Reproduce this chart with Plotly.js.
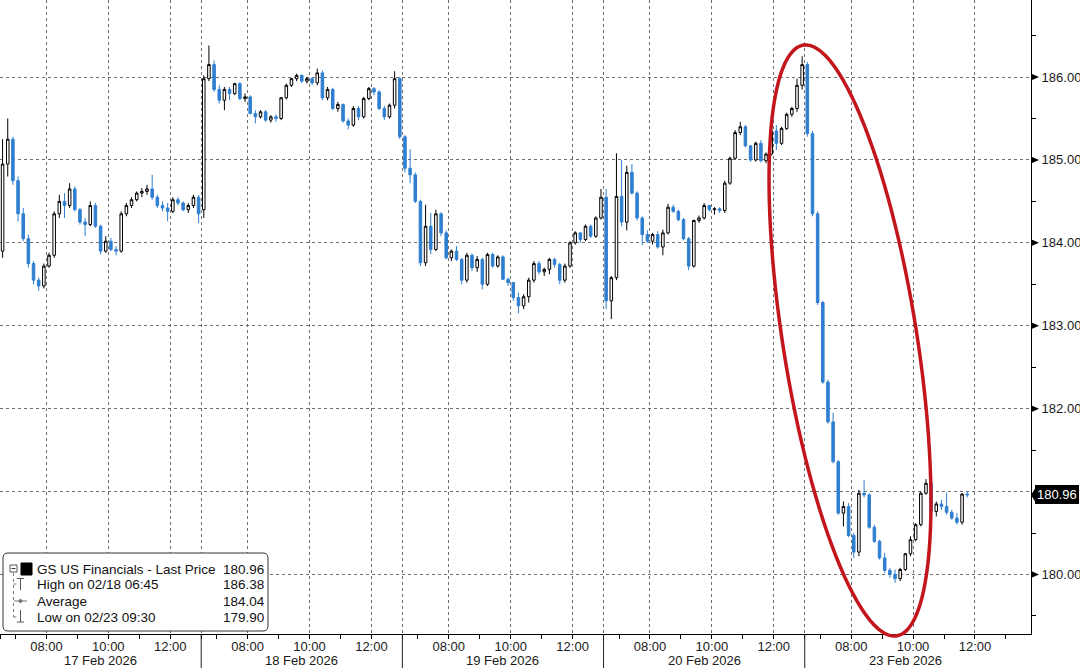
<!DOCTYPE html>
<html>
<head>
<meta charset="utf-8">
<script src="https://cdn.plot.ly/plotly-3.0.1.min.js"></script>
<style>
html,body{margin:0;padding:0;background:#fff;}
#chart{width:1080px;height:668px;}
</style>
</head>
<body>
<div id="chart"></div>
<script>
// ---------------- data ----------------
const dayLabels = ['17 Feb 2026', '18 Feb 2026', '19 Feb 2026', '20 Feb 2026', '23 Feb 2026'];
const sessionStart = 6.5;      // 06:30
const sessionHours = 6.5;      // 06:30 - 13:00 shown per day
const barMinutes = 10;
const tickHours = [8, 10, 12];
const tickLabels = ['08:00', '10:00', '12:00'];
const yTicks = [180, 181, 182, 183, 184, 185, 186];
const lastPrice = 180.96;
const legendLabels = ['GS US Financials - Last Price', 'High on 02/18 06:45', 'Average', 'Low on 02/23 09:30'];
const legendValues = ['180.96', '186.38', '184.04', '179.90'];

// [open, high, low, close] per 10-minute bar
const feb17 = [
 [183.9,185.25,183.82,184.95],[184.95,185.5,184.8,185.25],[185.25,185.28,184.7,184.75],[184.75,184.8,184.26,184.35],
 [184.35,184.42,184.02,184.05],[184.05,184.1,183.7,183.75],[183.75,183.78,183.5,183.55],[183.55,183.58,183.42,183.48],
 [183.48,183.75,183.45,183.72],[183.72,183.88,183.7,183.85],[183.85,184.38,183.82,184.35],[184.35,184.58,184.3,184.5],
 [184.5,184.6,184.3,184.45],[184.45,184.72,184.42,184.65],[184.65,184.68,184.38,184.4],[184.4,184.42,184.22,184.25],
 [184.25,184.3,184.08,184.22],[184.22,184.5,184.2,184.45],[184.45,184.48,184.18,184.2],[184.2,184.22,183.86,183.9],
 [183.9,184.08,183.88,184.02],[184.02,184.06,183.9,183.92],[183.92,183.96,183.85,183.9],[183.9,184.38,183.88,184.35],
 [184.35,184.48,184.32,184.45],[184.45,184.55,184.42,184.52],[184.52,184.62,184.5,184.6],[184.6,184.66,184.55,184.62],
 [184.62,184.7,184.58,184.65],[184.65,184.82,184.52,184.55],[184.55,184.58,184.42,184.45],[184.45,184.5,184.38,184.42],
 [184.42,184.48,184.26,184.38],[184.38,184.55,184.36,184.52],[184.52,184.55,184.45,184.48],[184.48,184.5,184.38,184.4],
 [184.4,184.48,184.36,184.45],[184.45,184.58,184.42,184.55],[184.55,184.58,184.24,184.35]
];
const feb18 = [
 [184.4,186.02,184.3,185.98],[185.98,186.38,185.95,186.15],[186.15,186.2,185.82,185.85],[185.85,185.9,185.68,185.72],
 [185.72,185.88,185.6,185.85],[185.85,185.88,185.72,185.8],[185.8,185.93,185.78,185.92],[185.92,185.94,185.72,185.74],
 [185.74,185.8,185.7,185.76],[185.76,185.78,185.55,185.56],[185.56,185.6,185.44,185.52],[185.52,185.6,185.5,185.58],
 [185.58,185.6,185.46,185.48],[185.48,185.54,185.45,185.52],[185.52,185.55,185.46,185.5],[185.5,185.76,185.48,185.75],
 [185.75,185.92,185.73,185.9],[185.9,185.99,185.88,185.98],[185.98,186.04,185.95,186.02],[186.02,186.03,185.93,185.95],
 [185.95,186.0,185.92,185.98],[185.98,186.0,185.9,185.93],[185.93,186.1,185.9,186.05],[186.05,186.08,185.72,185.75],
 [185.75,185.88,185.72,185.85],[185.85,185.87,185.6,185.62],[185.62,185.7,185.58,185.67],[185.67,185.68,185.45,185.47],
 [185.47,185.5,185.37,185.42],[185.42,185.65,185.4,185.62],[185.62,185.65,185.48,185.52],[185.52,185.76,185.5,185.74],
 [185.74,185.88,185.72,185.86],[185.86,185.88,185.78,185.82],[185.82,185.84,185.6,185.62],[185.62,185.65,185.48,185.52],
 [185.52,185.68,185.5,185.66],[185.66,186.07,185.62,185.98],[185.98,186.0,185.25,185.28]
];
const feb19 = [
 [185.28,185.3,184.85,184.9],[184.9,185.13,184.72,184.82],[184.82,184.85,184.48,184.5],[184.5,184.52,183.72,183.76],
 [183.76,184.46,183.72,184.2],[184.2,184.36,183.86,183.92],[183.92,184.4,183.9,184.35],[184.35,184.37,184.08,184.12],
 [184.12,184.15,183.8,183.82],[183.82,183.92,183.78,183.9],[183.9,183.96,183.78,183.8],[183.8,183.82,183.5,183.55],
 [183.55,183.88,183.52,183.85],[183.85,183.87,183.66,183.7],[183.7,183.84,183.65,183.8],[183.8,183.82,183.44,183.5],
 [183.5,183.88,183.48,183.86],[183.86,183.88,183.7,183.72],[183.72,183.85,183.7,183.83],[183.83,183.85,183.55,183.56],
 [183.56,183.58,183.48,183.52],[183.52,183.53,183.3,183.34],[183.34,183.4,183.15,183.24],[183.24,183.38,183.2,183.35],
 [183.35,183.58,183.28,183.55],[183.55,183.78,183.52,183.75],[183.75,183.78,183.62,183.65],[183.65,183.7,183.6,183.68],
 [183.68,183.82,183.62,183.8],[183.8,183.82,183.7,183.74],[183.74,183.76,183.5,183.55],[183.55,183.75,183.52,183.72],
 [183.72,184.02,183.7,184.0],[184.0,184.14,183.98,184.12],[184.12,184.13,184.0,184.04],[184.04,184.22,184.02,184.2],
 [184.2,184.22,184.06,184.08],[184.08,184.32,184.06,184.3],[184.3,184.65,184.28,184.55]
];
const feb20 = [
 [184.55,184.65,183.2,183.3],[183.3,183.6,183.08,183.58],[183.58,185.08,183.55,184.56],[184.56,185.0,184.2,184.25],
 [184.25,184.93,184.15,184.85],[184.85,184.95,184.58,184.6],[184.6,184.62,184.27,184.3],[184.3,184.32,183.97,184.1],
 [184.1,184.15,184.0,184.02],[184.02,184.12,183.98,184.1],[184.1,184.14,183.93,183.95],[183.95,184.16,183.85,184.12],
 [184.12,184.47,184.1,184.43],[184.43,184.46,184.36,184.38],[184.38,184.4,184.26,184.28],[184.28,184.3,184.03,184.05],
 [184.05,184.07,183.67,183.72],[183.72,184.28,183.7,184.27],[184.27,184.33,184.24,184.3],[184.3,184.48,184.28,184.45],
 [184.45,184.46,184.38,184.4],[184.4,184.43,184.34,184.41],[184.41,184.43,184.36,184.39],[184.39,184.75,184.36,184.72],
 [184.72,185.04,184.7,185.02],[185.02,185.36,185.0,185.33],[185.33,185.46,185.3,185.4],[185.4,185.42,185.15,185.17],
 [185.17,185.18,184.98,185.0],[185.0,185.22,184.98,185.2],[185.2,185.24,184.97,184.99],[184.99,185.09,184.96,185.07],
 [185.07,185.37,185.05,185.35],[185.35,185.42,185.12,185.2],[185.2,185.4,185.18,185.38],[185.38,185.57,185.36,185.55],
 [185.55,185.64,185.52,185.62],[185.62,185.98,185.58,185.9],[185.9,186.25,185.85,186.15]
];
const feb23 = [
 [186.15,186.18,185.28,185.32],[185.32,185.35,184.32,184.35],[184.35,184.38,183.25,183.28],[183.28,183.3,182.3,182.32],
 [182.32,182.35,181.82,181.84],[181.84,181.95,181.34,181.36],[181.36,181.38,180.72,180.74],[180.74,180.88,180.58,180.82],
 [180.82,180.86,180.45,180.47],[180.47,180.5,180.2,180.27],[180.27,181.02,180.22,180.98],[180.98,181.14,180.93,180.96],
 [180.96,180.98,180.55,180.57],[180.57,180.6,180.38,180.4],[180.4,180.42,180.18,180.2],[180.2,180.26,180.02,180.05],
 [180.05,180.08,179.96,180.0],[180.0,180.06,179.9,179.95],[179.95,180.08,179.92,180.06],[180.06,180.26,180.04,180.25],
 [180.25,180.46,180.22,180.42],[180.42,180.62,180.4,180.6],[180.6,181.0,180.58,180.98],[180.98,181.15,180.96,181.1],
 [181.1,181.12,180.66,180.76],[180.76,180.88,180.7,180.85],[180.85,180.9,180.78,180.82],[180.82,180.99,180.72,180.75],
 [180.75,180.78,180.66,180.68],[180.68,180.74,180.6,180.63],[180.63,180.98,180.6,180.97],[180.97,181.0,180.93,180.96]
];
const sessions = [feb17, feb18, feb19, feb20, feb23];

// ---------------- build trace ----------------
const X = [], O = [], Hh = [], L = [], C = [];
sessions.forEach((bars, d) => {
  bars.forEach((b, k) => {
    X.push(d * sessionHours + (k * barMinutes + barMinutes / 2) / 60);
    O.push(b[0]); Hh.push(b[1]); L.push(b[2]); C.push(b[3]);
  });
});

const blue = '#2f7fd1';
const trace = {
  type: 'candlestick', x: X, open: O, high: Hh, low: L, close: C,
  increasing: {line: {color: '#000', width: 1}, fillcolor: '#ffffff'},
  decreasing: {line: {color: blue, width: 1}, fillcolor: blue},
  whiskerwidth: 0, hoverinfo: 'skip', showlegend: false
};

// ---------------- axes ----------------
const FONT = 'Liberation Sans, Arial, sans-serif';
const W = 1031, H = 634;            // plot area in px
const pxX = v => v / W, pxY = v => 1 - v / H;

const separators = [];
for (let d = 1; d < dayLabels.length; d++) separators.push(d * sessionHours);
const xTickVals = [0], xTickText = [''];
dayLabels.forEach((_, d) => {
  tickHours.forEach((h, i) => { xTickVals.push(d * sessionHours + h - sessionStart); xTickText.push(tickLabels[i]); });
});
separators.forEach(s => { xTickVals.push(s); xTickText.push(''); });
const hourTicks = [];
dayLabels.forEach((_, d) => { for (let j = 0; j <= 6; j++) hourTicks.push(d * sessionHours + 0.5 + j); });
const yMinor = [];
for (let v = 179.5; v <= 186.5; v += 1) yMinor.push(v);
// the level hidden behind the last-price tag carries no label / marker
const nearTag = v => Math.abs(v - lastPrice) < 0.2;

// ---------------- shapes ----------------
const shapes = [];
// day separators in the label band
separators.forEach(s => shapes.push({type: 'line', xref: 'x', yref: 'paper', x0: s, x1: s, y0: 0, y1: -34 / H,
  line: {color: '#222', width: 1}}));
// arrow markers on y axis
yTicks.filter(v => !nearTag(v)).forEach(v => shapes.push({type: 'path', xref: 'paper', xsizemode: 'pixel', xanchor: 1,
  yref: 'y', ysizemode: 'pixel', yanchor: v, path: 'M0,-3.5 L8,0 L0,3.5 Z', fillcolor: '#000', line: {width: 0}}));
// last price tag notch
shapes.push({type: 'path', xref: 'paper', xsizemode: 'pixel', xanchor: 1, yref: 'y', ysizemode: 'pixel',
  yanchor: lastPrice, path: 'M0,0 L6,-9.5 L6,9.5 Z', fillcolor: '#000', line: {width: 0}});

// legend box (rounded)
function roundRect(x0, y0, x1, y1, r) {
  const f = (a, b) => pxX(a).toFixed(5) + ',' + pxY(b).toFixed(5);
  return 'M' + f(x0 + r, y0) + ' L' + f(x1 - r, y0) + ' Q' + f(x1, y0) + ' ' + f(x1, y0 + r) +
    ' L' + f(x1, y1 - r) + ' Q' + f(x1, y1) + ' ' + f(x1 - r, y1) +
    ' L' + f(x0 + r, y1) + ' Q' + f(x0, y1) + ' ' + f(x0, y1 - r) +
    ' L' + f(x0, y0 + r) + ' Q' + f(x0, y0) + ' ' + f(x0 + r, y0) + ' Z';
}
shapes.push({type: 'path', xref: 'paper', yref: 'paper', path: roundRect(3, 553, 268, 631, 5),
  fillcolor: '#fff', line: {color: '#333', width: 1}, layer: 'above'});
const pline = (x0, y0, x1, y1, col, w, dash) => ({type: 'line', xref: 'paper', yref: 'paper',
  x0: pxX(x0), y0: pxY(y0), x1: pxX(x1), y1: pxY(y1), line: {color: col, width: w, dash: dash || 'solid'}, layer: 'above'});
const prect = (x0, y0, x1, y1, fill, col) => ({type: 'rect', xref: 'paper', yref: 'paper',
  x0: pxX(x0), y0: pxY(y0), x1: pxX(x1), y1: pxY(y1), fillcolor: fill, line: {color: col, width: 1}, layer: 'above'});
// tree lines
shapes.push(pline(13.5, 573, 13.5, 617, '#777', 1, 'dot'));
shapes.push(pline(13.5, 584, 17, 584, '#777', 1, 'dot'));
shapes.push(pline(13.5, 617, 17, 617, '#777', 1, 'dot'));
// collapse box
shapes.push(prect(10, 565, 17, 572, '#fff', '#555'));
shapes.push(pline(11.5, 568.5, 15.5, 568.5, '#333', 1));
// black square
shapes.push(prect(21, 563, 32, 575, '#000', '#000'));
// high icon
shapes.push(pline(17, 578.5, 24, 578.5, '#555', 1));
shapes.push(pline(20.5, 578.5, 20.5, 590, '#555', 1));
// average icon
shapes.push(pline(14, 601, 27, 601, '#777', 1));
shapes.push({type: 'path', xref: 'paper', yref: 'paper', layer: 'above',
  path: 'M' + pxX(20.5) + ',' + pxY(598.5) + ' L' + pxX(23) + ',' + pxY(601) + ' L' + pxX(20.5) + ',' + pxY(603.5) +
        ' L' + pxX(18) + ',' + pxY(601) + ' Z', fillcolor: '#777', line: {width: 0}});
// low icon
shapes.push(pline(20.5, 610, 20.5, 622, '#555', 1));
shapes.push(pline(17, 622, 24, 622, '#555', 1));

// red ellipse (annotation highlight)
(function () {
  const cx = 850, cy = 340.5, a = 299, b = 67, ux = 0.156, uy = 0.988, vx = 0.988, vy = -0.156;
  let p = '';
  for (let i = 0; i <= 120; i++) {
    const t = i / 120 * 2 * Math.PI;
    const x = cx + a * Math.cos(t) * ux + b * Math.sin(t) * vx;
    const y = cy + a * Math.cos(t) * uy + b * Math.sin(t) * vy;
    p += (i === 0 ? 'M' : ' L') + pxX(x).toFixed(5) + ',' + pxY(y).toFixed(5);
  }
  shapes.push({type: 'path', xref: 'paper', yref: 'paper', path: p + ' Z', layer: 'above',
    line: {color: '#c3161c', width: 3.5}, fillcolor: 'rgba(0,0,0,0)'});
})();

// ---------------- annotations ----------------
const annotations = [];
dayLabels.forEach((lab, d) => annotations.push({text: lab, xref: 'x', yref: 'paper', x: d * sessionHours + sessionHours / 2,
  y: 0, yanchor: 'middle', yshift: -26, showarrow: false, font: {family: FONT, size: 13, color: '#1a1a1a'}}));
annotations.push({text: lastPrice.toFixed(2), xref: 'paper', yref: 'y', x: 1, y: lastPrice, xanchor: 'left', yanchor: 'middle',
  xshift: 4, showarrow: false, bgcolor: '#000', borderpad: 2, borderwidth: 0, font: {family: FONT, size: 13, color: '#fff'}});
const rowY = [569, 584.5, 601, 617.5];
legendLabels.forEach((lab, i) => {
  annotations.push({text: lab, xref: 'paper', yref: 'paper', x: pxX(35), y: pxY(rowY[i]), xanchor: 'left', yanchor: 'middle',
    showarrow: false, font: {family: FONT, size: 13.5, color: '#111'}});
  annotations.push({text: legendValues[i], xref: 'paper', yref: 'paper', x: pxX(221), y: pxY(rowY[i]), xanchor: 'left', yanchor: 'middle',
    showarrow: false, font: {family: FONT, size: 13.5, color: '#111'}});
});

const layout = {
  width: 1080, height: 668,
  margin: {l: 0, r: 1080 - W, t: 0, b: 668 - H, pad: 0},
  paper_bgcolor: '#fff', plot_bgcolor: '#fff',
  showlegend: false,
  xaxis: {
    range: [0, 33.31], type: 'linear', rangeslider: {visible: false},
    tickmode: 'array', tickvals: xTickVals, ticktext: xTickText,
    ticks: 'outside', ticklen: 4, tickcolor: '#000', tickwidth: 1, ticklabelstandoff: -4,
    tickfont: {family: FONT, size: 13, color: '#1a1a1a'},
    showline: true, linecolor: '#000', linewidth: 1, zeroline: false,
    showgrid: true, gridcolor: '#6f6f6f', gridwidth: 1, griddash: 'dot',
    minor: {tickmode: 'array', tickvals: hourTicks, ticks: 'outside', ticklen: 4, tickcolor: '#000', showgrid: false},
    fixedrange: true
  },
  yaxis: {
    range: [179.282, 186.929], side: 'right',
    tickmode: 'array', tickvals: yTicks, ticktext: yTicks.map(v => nearTag(v) ? '' : v.toFixed(2)),
    ticks: '', ticklabelstandoff: 7,
    tickfont: {family: FONT, size: 13, color: '#1a1a1a'},
    showline: true, linecolor: '#000', linewidth: 1, zeroline: false,
    showgrid: true, gridcolor: '#6f6f6f', gridwidth: 1, griddash: 'dot',
    minor: {tickmode: 'array', tickvals: yMinor, ticks: 'outside', ticklen: 4, tickcolor: '#000', showgrid: false},
    fixedrange: true
  },
  shapes: shapes,
  annotations: annotations
};

Plotly.newPlot('chart', [trace], layout, {displayModeBar: false, staticPlot: true});
</script>
</body>
</html>
